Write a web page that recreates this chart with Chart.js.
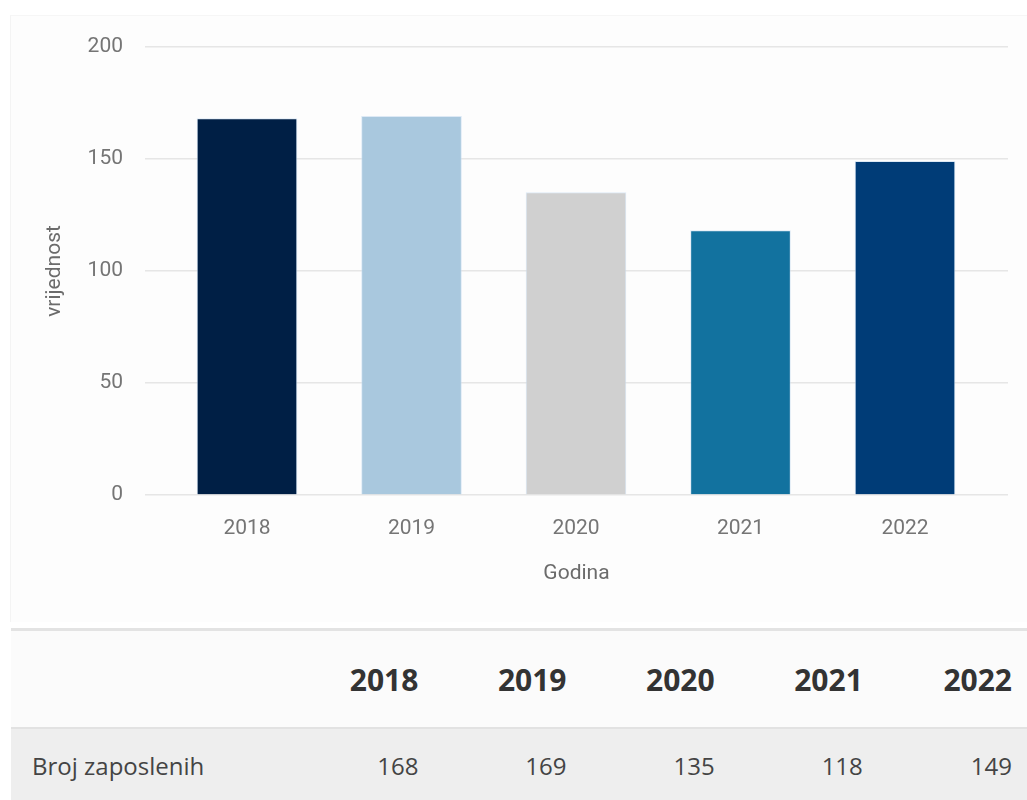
<!DOCTYPE html>
<html>
<head>
<meta charset="utf-8">
<script src="https://cdn.jsdelivr.net/npm/chart.js@4"></script>
<style>
  html, body { margin: 0; padding: 0; background: #ffffff; }
  body { width: 1027px; height: 800px; overflow: hidden; position: relative; }
  #card { position: absolute; left: 10px; top: 15px; width: 1017px; height: 606px; background: #fdfdfd; border-left: 1px solid #f4f4f4; border-top: 1px solid #f6f6f6; }
  #wrap { position: absolute; left: 0; top: 0; width: 1027px; height: 620px; }
  table { position: absolute; left: 11px; top: 628px; border-collapse: collapse; width: 1016px; font-family: "Open Sans", sans-serif; }
  thead tr { background: #fbfbfb; border-top: 3px solid #e3e3e3; }
  thead th { height: 96px; font-weight: 700; font-size: 30px; color: #333; text-align: right; padding: 0; }
  tbody tr { background: #eeeeee; border-top: 2px solid #e2e2e2; }
  tbody td { height: 72px; font-size: 24px; color: #444; text-align: right; padding: 0; }
  td.lbl { text-align: left; padding-left: 21px; width: 238px; }
  th.lbl { width: 259px; }
  .num { width: 148px; }
  .last { width: 149px; padding-right: 15px; }
</style>
</head>
<body>
<div id="card"></div>
<div id="wrap"><canvas id="c" width="1027" height="620"></canvas></div>
<table id="tbl">
  <thead><tr id="hrow"></tr></thead>
  <tbody><tr id="brow"></tr></tbody>
</table>
<script>
const categories = ["2018", "2019", "2020", "2021", "2022"];
const values = [168, 169, 135, 118, 149];
const barColors = ["#001f45", "#a9c8de", "#d0d0d0", "#12729f", "#003c77"];
const seriesName = "Broj zaposlenih";
const yTicks = [0, 50, 100, 150, 200];
const yTitle = "vrijednost";
const xTitle = "Godina";

// table
const hrow = document.getElementById('hrow');
const brow = document.getElementById('brow');
let th = document.createElement('th'); th.className = 'lbl'; hrow.appendChild(th);
let td = document.createElement('td'); td.className = 'lbl'; td.textContent = seriesName; brow.appendChild(td);
categories.forEach((c, i) => {
  const h = document.createElement('th');
  h.className = i === categories.length - 1 ? 'last' : 'num';
  h.textContent = c; hrow.appendChild(h);
  const d = document.createElement('td');
  d.className = i === categories.length - 1 ? 'last' : 'num';
  d.textContent = values[i]; brow.appendChild(d);
});

const tickFont = { family: "Roboto", size: 21 };
new Chart(document.getElementById('c'), {
  type: 'bar',
  data: {
    datasets: [{
      label: seriesName,
      data: values.map((v, i) => ({ x: i, y: v })),
      backgroundColor: barColors,
      borderColor: "rgba(200,220,240,0.6)",
      borderWidth: 1,
      barThickness: 100
    }]
  },
  options: {
    responsive: false,
    animation: false,
    layout: { padding: { top: 47, right: 19, left: 0, bottom: 0 } },
    plugins: { legend: { display: false }, tooltip: { enabled: false } },
    scales: {
      x: {
        type: 'linear',
        offset: false,
        min: -0.62,
        max: 4.626,
        grid: { display: false, drawTicks: false },
        border: { display: false },
        afterBuildTicks: (s) => { s.ticks = categories.map((c, i) => ({ value: i })); },
        afterFit: (s) => { s.height = 125; },
        ticks: {
          font: tickFont, color: "#757575", padding: 21, maxRotation: 0, autoSkip: false,
          callback: (v) => categories[v]
        },
        title: { display: true, text: xTitle, font: tickFont, color: "#6b6b6b", padding: { top: 0, bottom: 34 } }
      },
      y: {
        min: 0, max: 200,
        afterBuildTicks: (s) => { s.ticks = yTicks.map(v => ({ value: v })); },
        afterFit: (s) => { s.width = 145; },
        grid: { color: "#e6e6e6", lineWidth: 1.5, drawTicks: false },
        border: { display: false },
        ticks: { font: tickFont, color: "#757575", padding: 22 },
        title: { display: true, text: yTitle, font: tickFont, color: "#6b6b6b", padding: { top: 42, bottom: 0 } }
      }
    }
  }
});
</script>
</body>
</html>
